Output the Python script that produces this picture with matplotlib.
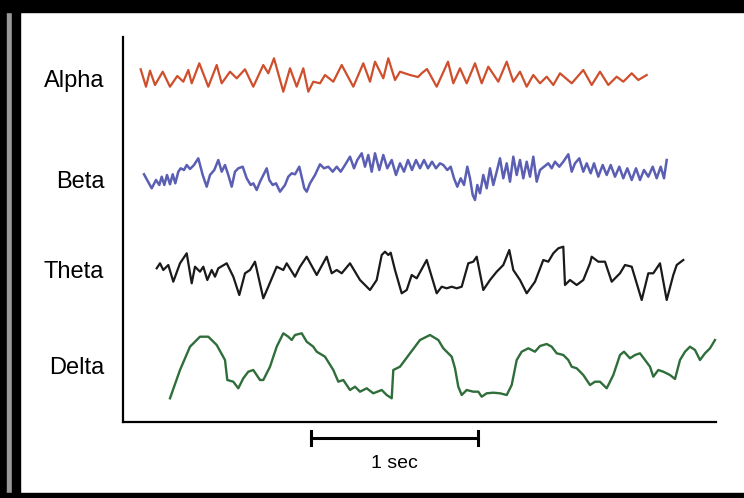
import numpy as np
import matplotlib
matplotlib.use("Agg")
import matplotlib.pyplot as plt
from matplotlib.patches import Rectangle

# sample rate of the traces (samples per second)
FS = 167.0

# channel names and their vertical offsets on the chart
bands = ["Alpha", "Beta", "Theta", "Delta"]
offsets = [344, 242, 152, 56]

# Alpha: sample index, amplitude
alpha_t = [17.7, 23, 27, 32, 39.7, 47, 54.3, 60.3, 65.3, 68.7, 76.3, 85.3, 93.7, 98.7, 107,
           113.7, 122, 130.3, 140.3, 145.3, 151, 160.3, 167, 173.7, 180.3, 185.3, 190.3, 197,
           202, 210.3, 218.7, 230.3, 240.3, 247, 252, 260.3, 265.3, 272, 277, 287, 295, 299,
           304, 313.7, 325, 330.3, 337, 343.7, 352, 358.7, 365.3, 375.3, 383.7, 390.3, 397,
           403.7, 410.3, 417, 423.7, 430.3, 437, 448.7, 460.3, 468.7, 477, 485.3, 493.7, 500.3,
           508.7, 515.3, 523.7]
alpha_v = [8.7, -8.7, 7.3, -7, 6.3, -8.7, 2, -3.7, 8, -5.3, 14.7, -8.7, 13, -5.3, 6.3,
           -0.3, 8.7, -8.7, 13, 4.7, 19.7, -13.7, 9.7, -8.7, 9.7, -13.7, -3.7, -5.3,
           3, -3.7, 13, -8.7, 14.7, -3.7, 16.3, -0.3, 19.7, -2, 6.3, 3, 1, 5,
           9, -8.7, 16.3, -5.3, 9.7, -5.3, 14.7, -5.3, 11.3, -3.7, 16.3, -3.7, 6.3,
           -8.7, 3, -5.3, 1.3, -7, 4.7, -5.3, 8, -7, 6.3, -7, 1.3, -3.7,
           4.7, -2, 3]

# Beta
beta_t = [21, 28.7, 33, 36.3, 38.7, 41.3, 44, 47, 49.7, 52.3, 55.3, 57.7, 61, 63.7, 67, 71,
          75.3, 79.7, 83.7, 87, 91.3, 95.3, 98.7, 102, 105.3, 108.7, 112, 115.3, 119.7, 123.7,
          127.7, 130.3, 133.7, 137, 140.3, 143.7, 146.3, 149.7, 153, 157, 162, 165.3, 168.7,
          172, 176.3, 179.7, 181.3, 183.7, 187, 192, 197, 201, 205.3, 209.7, 213.7, 217.7,
          222, 227, 231, 234.3, 238.7, 242, 245.3, 248.7, 252, 256.3, 260.3, 264.3, 268.7,
          273, 277, 281, 285, 289, 293, 297, 301, 305, 309, 313, 317, 320.3, 324.3, 327.7,
          331, 334.3, 337.7, 341, 344.3, 347, 349.7, 352, 354.3, 357, 360.3, 363.7, 367,
          370.3, 373.7, 377, 380.3, 383.7, 387, 390.3, 393.7, 397, 400.3, 403.7, 407, 410.3,
          413.7, 417, 421, 425.3, 428.7, 432, 436.3, 440.3, 445.3, 448.7, 452, 456.3, 460.3,
          463.7, 467.7, 471, 475.3, 479.7, 483.7, 487.7, 492, 496.3, 500.3, 504.3, 508.7,
          513, 517, 521, 525.3, 529.7, 533.7, 537.7, 541, 543.7]
beta_v = [5.7, -8.3, 0, -5, 3.3, -5, 5, -4.3, 5.7, -3.3, 8.3, 11.7, 10, 15, 11, 15,
          21.7, 5, -6.7, 5, 10, 20, 8.3, 15, 5, -6.7, 8.3, 11.7, 13.3, 1.7,
          -5, -3.3, -10, -1.7, 5, 11.7, 0, -5, -3.3, -11.7, -5, 3.3, 6.7,
          5.7, 13.3, -1.7, -8.3, -11.7, -3.3, 5, 15.7, 11.7, 13.3, 8.3, 13.3, 8.3,
          15, 23.3, 11.7, 20, 26.7, 13.3, 25, 8.3, 26.7, 10, 25, 11.7, 20,
          5, 16.7, 8.3, 20, 10, 20, 11.7, 20, 11.7, 18.3, 11.7, 16.7, 15, 10, 13.3,
          1.7, -6.7, 1.7, -5, 13.3, 1.7, -15, -20, -5, -13.3, 5, -8.3, 11.7,
          -5, 8.3, 21.7, 1.7, 16.7, -1.7, 23.3, 5, 20, 1.7, 18.3, 3.3, 23.3,
          -1.7, 10, 13.3, 16.7, 11.7, 18.3, 13.3, 18.3, 25.7, 8.3, 16.7, 21.7, 8.3,
          16.7, 6.7, 16.7, 3.3, 15, 5, 15, 3.3, 13.3, 1.7, 11.7, 0,
          11.7, 0, 10, 3.3, 13.3, 1.7, 13.3, 1.7, 20]

# Theta
theta_t = [33.7, 37, 40.3, 45.3, 50.3, 57, 63.7, 68.7, 72, 77, 80.3, 84.3, 88.7, 92, 95.3,
           103.7, 110.3, 116.3, 122, 127, 132, 140.3, 145.3, 153.7, 160.3, 163.7, 172, 177,
           183.7, 193.7, 203.7, 208.7, 213.7, 218.7, 227, 237, 247, 253.7, 258.7, 262, 265.3,
           267.7, 272, 278.7, 283.7, 288.7, 293.7, 303.7, 313.7, 318.7, 323.7, 328.7, 333.7,
           338.7, 345.3, 350.3, 353.7, 360.3, 367, 373.7, 380.3, 386.3, 390.3, 397, 403.7,
           412, 420.3, 425.3, 430.3, 435.3, 440.3, 442, 447, 453.7, 460.3, 467, 468.7, 475.3,
           482, 488.7, 497, 502, 508.7, 518.7, 525.3, 530.3, 537, 543.7, 550.3, 553.7, 560.3]
theta_v = [1.7, 6.7, 0, 5, -11.7, 6.7, 16.7, -13.3, 3.3, -1.7, 3.3, -10, 0, -6.7, 1.7,
           6.7, -6.7, -25, -3.3, 0, 8.3, -28.3, -16.7, 3.3, 0, 6.7, -6.7, 3.3,
           13.3, -5, 13.3, -3.3, 0, -3.3, 6.7, -10, -20, -10, 15, 18.3, 15,
           17.3, 0, -23.3, -20, -5, -8.3, 10, -23.3, -16.7, -18.3, -16.7, -18.3,
           -16.7, 6.7, 8.3, 13.3, -20, -10, -1.7, 5, 20, 0, -10, -23.3,
           -11.7, 10, 8.3, 16.7, 21.7, 23.3, -15, -10, -15, -10, 6.7, 13.3, 8.3,
           8.3, -11.7, -3.3, 5, 3.3, -30, -3.3, -3.3, 6.7, -30, -5, 5, 10]

# Delta
delta_t = [47, 57, 67, 77, 85.3, 93.7, 102, 104.3, 110.3, 115.3, 120.3, 125.3, 130.3, 137,
           140.3, 147, 153.7, 160.3, 165.3, 168.7, 172, 178.7, 183.7, 190.3, 193.7, 202, 210.3,
           215.3, 220.3, 227, 232, 237, 243.7, 250.3, 258.7, 263.7, 268.7, 270.3, 277, 287,
           297, 307, 315.3, 320.3, 328.7, 332, 335.3, 338.7, 343.7, 350.3, 355.3, 358.7, 363.7,
           370.3, 377, 383.7, 388.7, 393.7, 398.7, 405.3, 412, 417, 423.7, 428.7, 433.7, 440.3,
           445.3, 448.7, 453.7, 460.3, 467, 472, 477, 483.7, 490.3, 497, 501, 507, 512, 517,
           522, 527, 530.3, 535.3, 540.3, 547, 552, 557, 562, 567, 572, 577, 582, 587, 592]
delta_v = [-32.3, -4, 19.3, 29.3, 29.3, 21, 6, -14, -15.7, -22.3, -12.3, -5.7, -4, -14,
           -14, -0.7, 19.3, 32.7, 29.3, 26, 31, 32.7, 24.3, 19.3, 14.3, 9.3, -4,
           -15.7, -14, -24, -20.7, -25.7, -22.3, -27.3, -24, -29, -32.3, -4, -0.7, 12.7,
           26, 31, 26, 17.7, 9.3, -2.3, -20.7, -29, -24, -25.7, -25.7, -30.7, -27.3,
           -26.7, -27.3, -29, -19, 6, 14.3, 17.7, 14.3, 20, 22, 19.3, 12.7, 11,
           6, -0.7, -2.3, -9, -19, -15.7, -15.7, -22.3, -9, 11, 14.3, 7.7, 11, 12.7,
           6, -0.7, -10.7, -4, -5.7, -9, -13, 6, 14.3, 19.3, 16, 6, 12.7, 17.7, 26]

traces = [(alpha_t, alpha_v), (beta_t, beta_v), (theta_t, theta_v), (delta_t, delta_v)]
colors = ["#cf4f2c", "#5b5fb3", "#1a1a1a", "#2f6e3a"]
widths = [1.6, 1.8, 1.6, 1.7]

plt.rcParams['font.family'] = ['Liberation Sans', 'DejaVu Sans']

fig = plt.figure(figsize=(7.44, 4.98), dpi=100)
ax = fig.add_axes([123 / 744, 76 / 498, 593 / 744, 385 / 498])

for (t, v), off, c, lw in zip(traces, offsets, colors, widths):
    ax.plot(np.array(t) / FS, np.array(v) + off, color=c, lw=lw,
            solid_joinstyle='round', clip_on=False)

ax.set_xlim(0, 593 / FS)
ax.set_ylim(0, 385)
ax.set_xticks([])
ax.set_yticks(offsets)
ax.set_yticklabels(bands, fontsize=17)
ax.tick_params(axis='y', length=0, pad=13.5)
for s in ['top', 'right']:
    ax.spines[s].set_visible(False)
for s in ['left', 'bottom']:
    ax.spines[s].set_linewidth(1.6)

# 1 second scale bar
bar_start = 188 / FS
ax.plot([bar_start, bar_start + 1.0], [-16, -16], color='black', lw=2.2, clip_on=False)
for xb in [bar_start, bar_start + 1.0]:
    ax.plot([xb, xb], [-23, -9], color='black', lw=2.2, clip_on=False)
ax.text(bar_start + 0.5, -41, "1 sec", ha='center', va='center', fontsize=14)

# black picture frame
frame = [(0, 0, 7, 498, 'black'), (7, 0, 5, 498, '#9a9a9a'), (12, 0, 8, 498, 'black'),
         (0, 0, 744, 12, 'black'), (0, 493, 744, 5, 'black')]
for x0, y0, w, h, c in frame:
    fig.patches.append(Rectangle((x0 / 744, 1 - (y0 + h) / 498), w / 744, h / 498,
                                 transform=fig.transFigure, color=c, zorder=10))

fig.savefig("out.png", dpi=100)
